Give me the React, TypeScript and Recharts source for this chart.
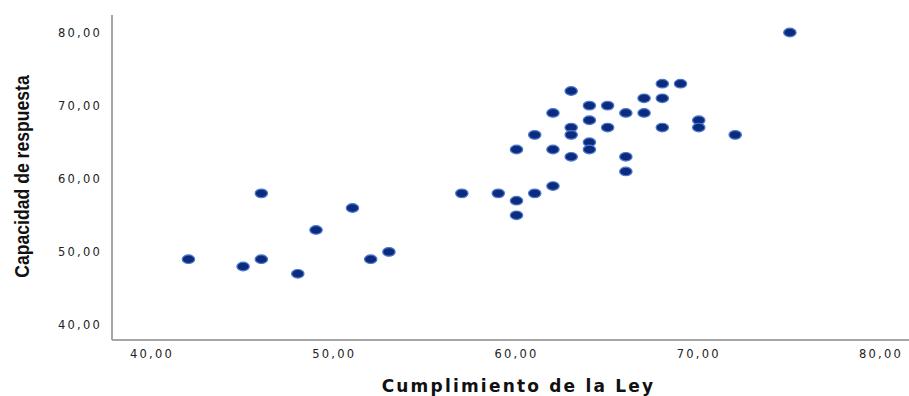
import React from 'react';
import { ScatterChart, Scatter, XAxis, YAxis } from 'recharts';

// Cumplimiento de la Ley (x) vs Capacidad de respuesta (y)
const cumplimiento = [
  42, 45, 46, 46, 48, 49, 51, 52, 53, 57, 59, 60, 60, 60, 61, 61, 62, 62, 62, 63, 63,
  63, 63, 64, 64, 64, 64, 65, 65, 66, 66, 66, 67, 67, 68, 68, 68, 69, 70, 70, 72, 75,
];
const capacidad = [
  49, 48, 58, 49, 47, 53, 56, 49, 50, 58, 58, 57, 55, 64, 58, 66, 59, 64, 69, 72, 67,
  66, 63, 70, 68, 65, 64, 70, 67, 69, 63, 61, 71, 69, 73, 71, 67, 73, 68, 67, 66, 80,
];
const axisTicks = [40, 50, 60, 70, 80];

const data = cumplimiento.map((x, i) => ({ x, y: capacidad[i] }));

const fmt = (v: number) => v.toFixed(2).replace('.', ',');

const tickStyle = {
  fontFamily: '"DejaVu Sans", sans-serif',
  fontSize: 11.5,
  letterSpacing: 2.2,
  fill: '#222',
};

// SPSS style dot: small navy ellipse with lighter rim
const Dot = (props: any) => {
  const { cx, cy } = props;
  if (cx == null || cy == null) return null;
  return (
    <ellipse cx={cx} cy={cy} rx={6.2} ry={4.3} fill="#0c2b7c" stroke="#4c7ad0" strokeWidth={1.2} />
  );
};

// narrow bold title for the y axis (no narrow font installed, so squeeze it)
const YTitle = (props: any) => {
  const vb = props.viewBox || { x: 0, y: 15, width: 112, height: 325 };
  const cx = vb.x + 22;
  const cy = vb.y + vb.height / 2 - 1;
  return (
    <text
      transform={`translate(${cx},${cy}) rotate(-90) scale(0.88,1)`}
      textAnchor="middle"
      dominantBaseline="central"
      style={{ fontFamily: '"Liberation Sans", Arial, sans-serif', fontWeight: 'bold', fontSize: 20, fill: '#111' }}
    >
      Capacidad de respuesta
    </text>
  );
};

export default function App() {
  return (
    <div style={{ position: 'absolute', left: 0, top: 0, width: 909, height: 396, background: '#fff' }}>
      <ScatterChart width={909} height={396} margin={{ top: 15, right: 0, left: 0, bottom: 0 }}>
        <XAxis
          type="number"
          dataKey="x"
          domain={[37.805, 81.536]}
          ticks={axisTicks}
          tickFormatter={fmt}
          allowDataOverflow
          height={56}
          tickSize={0}
          tickMargin={10}
          tick={tickStyle}
          axisLine={{ stroke: '#a6a6a6', strokeWidth: 2 }}
          label={{
            value: 'Cumplimiento de la Ley',
            position: 'insideBottom',
            offset: 4,
            dx: 8,
            style: {
              fontFamily: '"DejaVu Sans", sans-serif',
              fontWeight: 'bold',
              fontSize: 17,
              letterSpacing: 2.2,
              fill: '#111',
              textAnchor: 'middle',
            },
          }}
        />
        <YAxis
          type="number"
          dataKey="y"
          domain={[37.95, 82.39]}
          ticks={axisTicks}
          tickFormatter={fmt}
          allowDataOverflow
          width={112}
          tickSize={0}
          tickMargin={10}
          tick={tickStyle}
          axisLine={{ stroke: '#a6a6a6', strokeWidth: 2 }}
          label={<YTitle />}
        />
        <Scatter data={data} shape={<Dot />} isAnimationActive={false} />
      </ScatterChart>
    </div>
  );
}
